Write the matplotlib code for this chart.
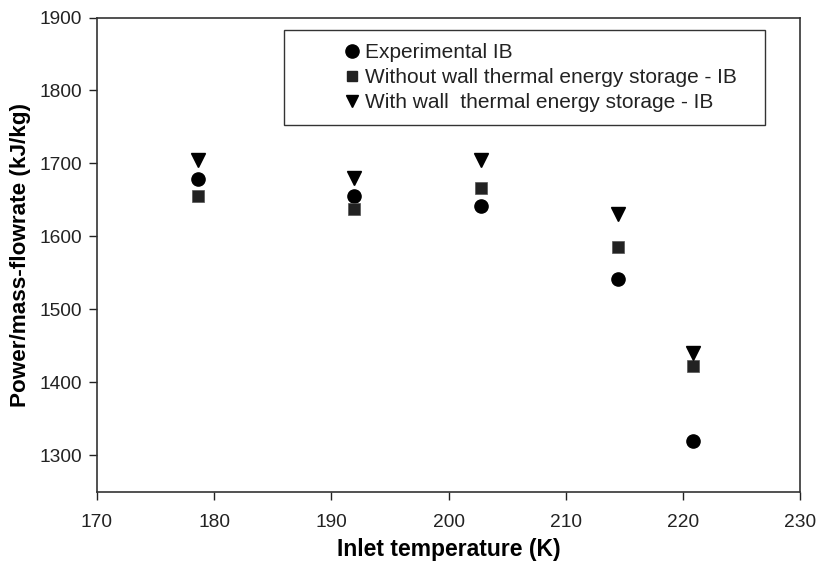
import matplotlib
matplotlib.use("Agg")
import matplotlib.pyplot as plt
from matplotlib.patches import Rectangle
from matplotlib.lines import Line2D

plt.rcParams['font.family'] = ['Liberation Sans', 'DejaVu Sans']

inlet_temp = [178.6, 191.9, 202.8, 214.5, 220.85]
experimental = [1679, 1655, 1641, 1542, 1319]
without_wall = [1655, 1637, 1666, 1585, 1422]
with_wall = [1705, 1680, 1705, 1630, 1440]
labels = ["Experimental IB", "Without wall thermal energy storage - IB",
          "With wall  thermal energy storage - IB"]

fig = plt.figure(figsize=(8.2, 5.61), dpi=100)
ax = fig.add_axes([97/820, 1-491.7/561, 703/820, 474.2/561])

ax.plot(inlet_temp, experimental, 'o', color='black', markersize=9.5, linestyle='none', label=labels[0])
ax.plot(inlet_temp, without_wall, 's', color='#222222', markeredgecolor='#555555', markeredgewidth=0.5,
        markersize=8.5, linestyle='none', label=labels[1])
ax.plot(inlet_temp, with_wall, 'v', color='black', markersize=10, linestyle='none', label=labels[2])

ax.set_xlim(170, 230)
ax.set_ylim(1250, 1900)
ax.set_xticks([170, 180, 190, 200, 210, 220, 230])
ax.set_yticks([1300, 1400, 1500, 1600, 1700, 1800, 1900])
ax.tick_params(direction='out', length=6, width=1, labelsize=13.8, colors='#222222')
ax.tick_params(axis='x', pad=10)
ax.tick_params(axis='y', pad=5)
ax.tick_params(top=False, right=False)
for s in ax.spines.values():
    s.set_linewidth(1.2)
    s.set_color('#333333')
ax.set_xlabel("Inlet temperature (K)", fontsize=16.5, fontweight='bold', labelpad=5)
ax.set_ylabel("Power/mass-flowrate (kJ/kg)", fontsize=16.2, fontweight='bold', labelpad=6)

# legend box
x0 = (284-97)/703
x1 = (765-97)/703
y0 = (491.7-125)/474.2
y1 = (491.7-30)/474.2
ax.add_patch(Rectangle((x0, y0), x1-x0, y1-y0, transform=ax.transAxes, fill=False,
                       edgecolor='#333333', linewidth=1.0, zorder=5))
handles = [Line2D([], [], marker='o', color='black', linestyle='none', markersize=9.5),
           Line2D([], [], marker='s', color='#222222', linestyle='none', markersize=7.5),
           Line2D([], [], marker='v', color='black', linestyle='none', markersize=9)]
leg = ax.legend(handles, labels, loc='upper left', bbox_to_anchor=((344-97)/703, (491.7-43)/474.2),
                frameon=False, fontsize=15, handlelength=0.8, handletextpad=0.2,
                labelspacing=0.3, borderpad=0, borderaxespad=0)
for t in leg.get_texts():
    t.set_color('#222222')

fig.savefig("out.png", dpi=100)
